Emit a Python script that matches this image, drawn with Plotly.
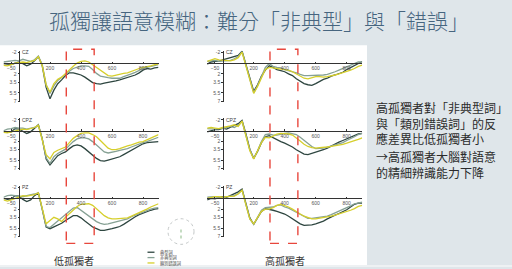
import plotly.graph_objects as go

W, H = 512, 269

times = list(range(-100, 901, 25))

conditions = ["典型詞", "非典型詞", "類別錯誤詞"]
colors = ["#2e4640", "#86a194", "#d6cf2c"]

# ---- low-loneliness group ----
low_cz_typ = [0.1, 0.2, 0.3, 0.0, -0.2, 0.1, 0.5, 0.2, -0.4, -1.2, 0.5, 4.5, 6.6, 5.0, 3.8, 3.1, 2.3, 1.8, 1.8, 2.0, 2.2, 2.6, 3.1, 3.6, 3.8, 3.9, 3.7, 3.6, 3.4, 3.3, 3.1, 2.9, 2.7, 2.5, 2.2, 1.8, 1.3, 1.0, 1.1, 0.9, 0.8]
low_cz_aty = [-0.2, -0.3, -0.4, -0.5, -0.4, -0.7, -0.5, -0.3, -0.6, -1.3, 0.3, 4.0, 5.6, 4.2, 3.2, 2.6, 2.1, 1.5, 1.0, 0.7, 0.5, 0.5, 0.6, 1.2, 1.9, 2.4, 2.6, 2.7, 2.8, 2.8, 2.8, 2.5, 2.3, 2.0, 1.7, 1.3, 1.0, 0.8, 0.6, 0.5, 0.3]
low_cz_err = [0.4, 0.5, 0.3, 0.0, -0.1, -0.2, -0.1, -0.3, -0.5, -1.2, 0.5, 4.0, 5.4, 3.8, 3.0, 2.6, 1.9, 1.2, 0.6, 0.0, -0.3, -0.4, -0.2, 0.3, 0.8, 1.4, 1.9, 2.3, 2.4, 2.2, 2.1, 1.9, 1.8, 1.5, 1.2, 1.0, 0.8, 0.7, 0.5, 0.3, 0.2]

low_cpz_typ = [0.1, 0.3, 0.2, -0.4, -0.3, 0.1, 0.5, 0.2, -0.5, -1.1, 1.5, 5.2, 6.3, 5.4, 4.6, 4.2, 3.9, 3.3, 2.8, 2.6, 2.8, 3.3, 3.9, 4.5, 5.1, 5.5, 5.6, 5.4, 5.2, 5.0, 4.8, 4.4, 4.0, 3.6, 3.3, 2.8, 2.4, 2.2, 2.1, 2.0, 2.0]
low_cpz_aty = [0.0, -0.3, -0.4, -0.6, -0.5, -0.5, -0.3, -0.4, -0.6, -1.0, 1.5, 5.0, 6.0, 4.8, 4.2, 3.8, 3.4, 2.7, 2.0, 1.5, 1.3, 1.3, 1.5, 2.0, 2.6, 3.3, 3.9, 4.1, 4.0, 3.8, 3.6, 3.5, 3.3, 3.0, 2.7, 2.4, 2.2, 2.0, 1.7, 1.4, 1.2]
low_cpz_err = [0.3, 0.4, 0.2, 0.0, -0.1, -0.3, -0.2, -0.4, -0.6, -1.0, 1.5, 4.4, 5.2, 4.0, 3.6, 3.3, 3.0, 2.2, 1.4, 0.9, 0.5, 0.4, 0.4, 0.7, 1.1, 1.8, 2.5, 3.2, 3.5, 3.5, 3.3, 3.0, 2.8, 2.6, 2.3, 2.1, 2.0, 1.7, 1.3, 1.0, 0.7]

low_pz_typ = [0.0, 0.2, 0.1, -0.5, -0.4, 0.2, 0.6, 0.3, -0.5, -1.0, 2.0, 5.3, 5.6, 5.3, 5.0, 4.6, 4.1, 3.6, 3.2, 3.2, 3.6, 4.2, 4.8, 5.3, 5.6, 5.9, 5.9, 5.8, 5.6, 5.4, 5.2, 4.8, 4.3, 3.8, 3.4, 3.0, 2.7, 2.5, 2.2, 2.0, 1.9]
low_pz_aty = [-0.2, -0.5, -0.6, -0.5, -0.4, -0.3, -0.5, -0.6, -0.8, -1.0, 2.0, 5.2, 5.4, 4.8, 4.2, 3.6, 3.0, 2.3, 1.8, 1.7, 2.2, 2.8, 3.3, 3.8, 4.3, 4.6, 4.8, 4.7, 4.5, 4.3, 4.1, 4.0, 3.8, 3.4, 3.1, 2.8, 2.5, 2.2, 2.0, 1.8, 1.7]
low_pz_err = [0.3, 0.5, 0.3, 0.0, -0.3, -0.5, -0.4, -0.5, -0.7, -1.0, 2.0, 4.7, 4.1, 3.5, 3.8, 4.3, 3.5, 2.8, 2.2, 1.5, 1.1, 1.0, 1.0, 1.3, 1.9, 2.6, 3.2, 3.6, 3.8, 3.8, 3.7, 3.7, 3.6, 3.3, 3.0, 2.7, 2.3, 2.0, 1.6, 1.3, 1.0]

# ---- high-loneliness group ----
high_cz_typ = [0.2, -0.2, -0.3, -0.3, -0.6, -0.8, -1.0, -1.2, -1.4, -2.2, 0.4, 3.0, 5.2, 4.0, 2.4, 1.3, 0.5, 0.8, 1.2, 1.4, 1.6, 2.0, 2.3, 2.9, 3.4, 3.8, 4.0, 4.1, 3.8, 3.4, 3.0, 2.8, 2.4, 2.2, 1.9, 1.7, 1.2, 0.8, 0.4, 0.0, -0.3]
high_cz_aty = [-0.3, -0.4, -0.5, -0.3, -0.4, -0.5, -0.5, -0.8, -1.2, -2.1, 0.4, 3.2, 5.5, 4.2, 2.4, 0.8, 0.1, 0.6, 0.8, 0.9, 1.2, 1.4, 1.5, 1.8, 2.1, 2.3, 2.3, 2.3, 2.3, 2.2, 2.2, 2.1, 1.9, 1.6, 1.3, 1.0, 0.8, 0.5, 0.1, -0.2, -0.2]
high_cz_err = [-0.3, -0.6, -0.8, -0.6, -0.5, -0.5, -0.4, -0.6, -1.0, -2.0, 0.5, 3.4, 5.6, 4.3, 2.6, 1.2, 0.8, 0.9, 0.9, 1.0, 1.2, 1.3, 1.6, 2.0, 2.4, 2.8, 2.9, 2.7, 2.5, 2.5, 2.6, 2.5, 2.4, 2.2, 2.0, 1.8, 1.6, 1.3, 1.0, 0.6, 0.4]

high_cpz_typ = [0.2, 0.0, -0.2, -0.2, -0.5, -0.3, -0.7, -1.0, -1.3, -1.9, 0.6, 3.4, 5.1, 3.8, 2.2, 1.1, 0.9, 1.3, 1.6, 2.0, 2.3, 2.6, 3.0, 3.5, 3.9, 4.3, 4.4, 4.2, 4.0, 3.8, 3.5, 3.2, 2.8, 2.4, 2.1, 1.8, 1.5, 1.3, 0.9, 0.6, 0.5]
high_cpz_aty = [-0.4, -0.3, -0.3, -0.4, -0.4, -0.6, -0.8, -0.6, -1.0, -1.7, 0.7, 3.5, 5.1, 3.7, 2.0, 0.7, 0.6, 0.8, 0.8, 0.6, 0.5, 0.4, 0.5, 0.7, 1.2, 1.8, 2.4, 2.9, 3.3, 3.3, 3.2, 3.0, 2.8, 2.7, 2.5, 2.2, 1.8, 1.5, 1.1, 0.7, 0.5]
high_cpz_err = [-0.5, -0.6, -0.5, -0.4, -0.6, -0.7, -0.9, -1.1, -0.8, -1.8, 0.8, 3.7, 5.2, 3.8, 2.2, 1.2, 1.3, 1.0, 0.6, 0.5, 0.5, 0.6, 0.8, 1.3, 1.9, 2.5, 2.9, 3.1, 3.2, 3.1, 3.1, 3.0, 2.9, 2.8, 2.6, 2.5, 2.3, 2.1, 1.9, 1.6, 1.3]

high_pz_typ = [0.3, 0.0, 0.1, -0.1, -0.3, -0.2, -0.5, -0.9, -1.2, -1.7, 1.0, 3.6, 4.8, 3.6, 2.4, 1.9, 2.0, 2.2, 2.4, 2.6, 2.9, 3.3, 3.8, 4.3, 4.7, 5.0, 5.0, 4.9, 4.7, 4.5, 4.2, 3.8, 3.4, 3.1, 2.8, 2.5, 2.1, 1.6, 1.1, 0.9, 0.9]
high_pz_aty = [-0.2, -0.2, -0.3, -0.1, -0.2, -0.3, -0.4, -0.5, -0.9, -1.5, 1.2, 3.8, 4.8, 3.5, 2.2, 1.7, 1.6, 1.6, 1.3, 1.2, 1.6, 1.8, 2.2, 2.6, 3.0, 3.4, 3.7, 3.7, 3.6, 3.5, 3.4, 3.3, 3.0, 2.7, 2.4, 2.1, 1.8, 1.4, 1.0, 0.8, 0.7]
high_pz_err = [0.0, -0.2, -0.3, -0.3, -0.2, -0.3, -0.3, -0.4, -0.8, -1.5, 1.2, 3.8, 4.7, 3.5, 2.4, 2.0, 2.0, 1.7, 1.3, 1.1, 1.3, 1.6, 2.0, 2.5, 2.9, 3.3, 3.6, 3.8, 3.8, 3.7, 3.6, 3.4, 3.3, 3.1, 2.9, 2.7, 2.5, 2.2, 1.9, 1.5, 1.3]

electrodes = ["CZ", "CPZ", "PZ"]
groups = ["低孤獨者", "高孤獨者"]
x_ticks = [-50, 200, 400, 600, 800]
y_ticks = [-2, 2, 3.5, 5.5, 7]
y_ticktext = ["-2", "2", "3.5", "5.5", "7"]
window_ms = [305, 485]

title_text = "孤獨讓語意模糊：難分「非典型」與「錯誤」"
side_paragraphs = [
    ["高孤獨者對「非典型詞」", "與「類別錯誤詞」的反", "應差異比低孤獨者小"],
    ["→高孤獨者大腦對語意", "的精細辨識能力下降"],
]

data = {
    (0, 0): [low_cz_typ, low_cz_aty, low_cz_err],
    (1, 0): [low_cpz_typ, low_cpz_aty, low_cpz_err],
    (2, 0): [low_pz_typ, low_pz_aty, low_pz_err],
    (0, 1): [high_cz_typ, high_cz_aty, high_cz_err],
    (1, 1): [high_cpz_typ, high_cpz_aty, high_cpz_err],
    (2, 1): [high_pz_typ, high_pz_aty, high_pz_err],
}

# ---------- layout helpers (pixel -> paper) ----------
def px(x):
    return x / W

def py(y):
    return 1 - y / H

X_RANGE = [-100, 900]
Y_TOP, Y_BOT = -2.3, 7.2
PX_PER_UV = 5.5
col_left = [3.5, 207.2]     # pixel of t=-100
col_right = [158.5, 362.2]  # pixel of t=900
col_zero = [19.0, 222.7]    # pixel of t=0
row_zero = [62.0, 130.7, 199.3]

fig = go.Figure()
layout = {}
annotations = []
shapes = []

# background white panel
shapes.append(dict(type="rect", xref="paper", yref="paper", x0=0, x1=px(367),
                   y0=py(267), y1=py(44), fillcolor="white", line_width=0, layer="below"))
shapes.append(dict(type="rect", xref="paper", yref="paper", x0=0, x1=1,
                   y0=0, y1=py(267), fillcolor="#eef1f3", line_width=0, layer="below"))

tick_font = dict(family="Liberation Sans, DejaVu Sans", size=5, color="#555")

idx = 0
for r in range(3):
    for c in range(2):
        idx += 1
        sx = "" if idx == 1 else str(idx)
        xa, ya = "xaxis" + sx, "yaxis" + sx
        xr, yr = "x" + sx, "y" + sx
        top_px = row_zero[r] + Y_TOP * PX_PER_UV
        bot_px = row_zero[r] + Y_BOT * PX_PER_UV
        layout[xa] = dict(domain=[px(col_left[c]), px(col_right[c])], range=X_RANGE,
                          anchor="free", position=py(row_zero[r]),
                          showline=True, linecolor="#333", linewidth=1,
                          showgrid=False, zeroline=False,
                          tickvals=x_ticks, ticks="inside", ticklen=1.5, tickcolor="#333",
                          tickfont=tick_font, ticklabelstandoff=0)
        layout[ya] = dict(domain=[py(bot_px), py(top_px)], range=[Y_BOT, Y_TOP],
                          anchor="free", position=px(col_zero[c]),
                          showline=True, linecolor="#333", linewidth=1,
                          showgrid=False, zeroline=False,
                          tickvals=y_ticks, ticktext=y_ticktext,
                          ticks="outside", ticklen=1.5, tickcolor="#333",
                          tickfont=tick_font)
        for k in range(3):
            fig.add_trace(go.Scatter(x=times, y=data[(r, c)][k], mode="lines",
                                     line=dict(color=colors[k], width=1.3),
                                     xaxis=xr, yaxis=yr, showlegend=False,
                                     name=conditions[k]))
        annotations.append(dict(x=8, y=-2.05, xref=xr, yref=yr, text=electrodes[r],
                                showarrow=False, xanchor="left", yanchor="middle",
                                font=dict(family="Liberation Sans", size=5, color="#444")))
        if r == 0:
            shapes.append(dict(type="rect", xref=xr, yref="paper",
                               x0=window_ms[0], x1=window_ms[1],
                               y0=py(245), y1=py(48),
                               line=dict(color="#e8473d", width=1.4, dash="dash"),
                               fillcolor="rgba(0,0,0,0)", layer="above"))

# group labels
for c, g in enumerate(groups):
    annotations.append(dict(x=px([73.5, 284.5][c]), y=py(262), xref="paper", yref="paper",
                            text=g, showarrow=False, xanchor="center", yanchor="middle",
                            font=dict(family="Noto Sans CJK TC", size=10, color="#333")))

# manual legend: short line keys + one multi-line label block
for k in range(len(conditions)):
    yy = py(254 + 5.45 * k)
    shapes.append(dict(type="line", xref="paper", yref="paper", x0=px(147.5), x1=px(154.5),
                       y0=yy, y1=yy, line=dict(color=colors[k], width=1.3)))
annotations.append(dict(x=px(157.5), y=py(259.5), xref="paper", yref="paper",
                        text="<br>".join(conditions), align="left",
                        showarrow=False, xanchor="left", yanchor="middle",
                        font=dict(family="Noto Sans CJK TC", size=4.2, color="#444")))

# scalp icon
shapes.append(dict(type="circle", xref="paper", yref="paper", x0=px(168), x1=px(194),
                   y0=py(246), y1=py(220), line=dict(color="#c4c8c8", width=1, dash="dot")))
shapes.append(dict(type="line", xref="paper", yref="paper", x0=px(181), x1=px(181),
                   y0=py(240), y1=py(228), line=dict(color="#9fc59a", width=1.2, dash="dot")))

# title
annotations.append(dict(x=px(259), y=py(18), xref="paper", yref="paper", text=title_text,
                        showarrow=False, xanchor="center", yanchor="middle",
                        font=dict(family="Noto Sans CJK TC", size=21, color="#46657f",
                                  weight=300)))

# side text (one annotation per paragraph)
side_y = [123.3, 165.0]
for lines, yy in zip(side_paragraphs, side_y):
    annotations.append(dict(x=px(374), y=py(yy), xref="paper", yref="paper",
                            text="<br>".join(lines), align="left",
                            showarrow=False, xanchor="left", yanchor="middle",
                            font=dict(family="Noto Sans CJK TC", size=12, color="#2b2b2b")))

fig.update_layout(width=W, height=H, margin=dict(l=0, r=0, t=0, b=0),
                  paper_bgcolor="#dfe6ea", plot_bgcolor="rgba(0,0,0,0)",
                  showlegend=False, annotations=annotations, shapes=shapes, **layout)

fig.write_html("out.html")
